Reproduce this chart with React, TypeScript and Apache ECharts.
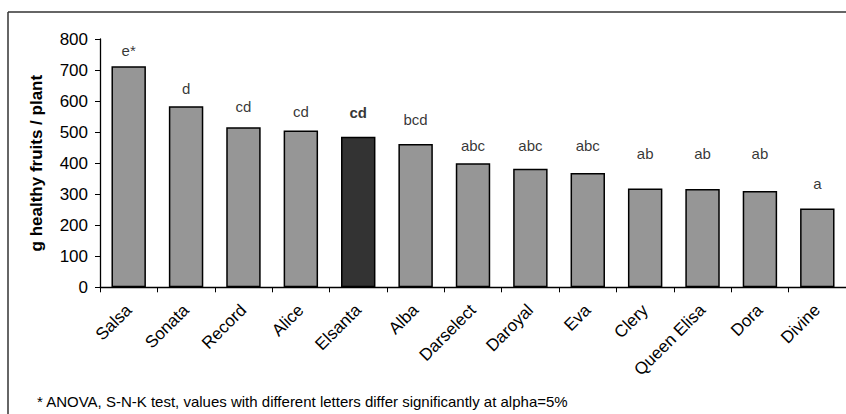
import React, { useEffect, useRef } from "react";
import * as echarts from "echarts";

const categories = ["Salsa", "Sonata", "Record", "Alice", "Elsanta", "Alba", "Darselect", "Daroyal", "Eva", "Clery", "Queen Elisa", "Dora", "Divine"];
const values = [712, 583, 516, 505, 485, 462, 400, 382, 368, 318, 317, 310, 254];
const letters = ["e*", "d", "cd", "cd", "cd", "bcd", "abc", "abc", "abc", "ab", "ab", "ab", "a"];
// hidden upper level (mean + spread) above which each letter is centred
const letterLevels = [764, 642, 581, 565, 562, 541, 458, 458, 458, 432, 432, 432, 336];
const highlighted = "Elsanta";
const yTicks = [0, 100, 200, 300, 400, 500, 600, 700, 800];
const yTitle = "g healthy fruits / plant";
const footnote = "* ANOVA, S-N-K test, values with different letters differ significantly at alpha=5%";

const FONT = "'Liberation Sans', Arial, sans-serif";

export default function App() {
  const ref = useRef<HTMLDivElement>(null);
  useEffect(() => {
    document.body.style.margin = "0";
    if (!ref.current) return;
    const chart = echarts.init(ref.current, null, { renderer: "svg" });
    chart.setOption({
      animation: false,
      textStyle: { fontFamily: FONT },
      grid: { left: 100, top: 39, width: 752, height: 248.3, containLabel: false },
      xAxis: {
        type: "category",
        data: categories,
        axisLine: { lineStyle: { color: "#000", width: 1.3 } },
        axisTick: { show: true, alignWithLabel: false, length: 5, lineStyle: { color: "#000" } },
        axisLabel: { rotate: 45, interval: 0, color: "#000", fontSize: 17, fontFamily: FONT, margin: 20 },
      },
      yAxis: {
        type: "value",
        min: yTicks[0],
        max: yTicks[yTicks.length - 1],
        interval: 100,
        name: yTitle,
        nameLocation: "middle",
        nameGap: 55,
        nameTextStyle: { fontSize: 17, fontWeight: "bold", color: "#000", fontFamily: FONT },
        axisLine: { show: true, lineStyle: { color: "#000", width: 1.3 } },
        axisTick: { show: true, length: 5, lineStyle: { color: "#000" } },
        axisLabel: { color: "#000", fontSize: 17, fontFamily: FONT, margin: 12 },
        splitLine: { show: false },
      },
      series: [
        {
          type: "bar",
          barWidth: "60%",
          data: values.map((v, i) => ({
            value: v,
            itemStyle: {
              color: categories[i] === highlighted ? "#333333" : "#969696",
              borderColor: "#000",
              borderWidth: 1.5,
            },
          })),
        },
        {
          type: "scatter",
          symbolSize: 0,
          silent: true,
          data: letterLevels.map((v, i) => ({
            value: [i, v],
            label: {
              show: true,
              position: "inside",
              formatter: letters[i],
              color: "#000",
              fontSize: 15,
              fontFamily: FONT,
              fontWeight: categories[i] === highlighted ? "bold" : "normal",
            },
          })),
        },
      ],
      graphic: [
        {
          type: "line",
          shape: { x1: 8, y1: 12, x2: 900, y2: 12 },
          style: { stroke: "#333", lineWidth: 1.5 },
          silent: true,
        },
        {
          type: "line",
          shape: { x1: 8, y1: 12, x2: 8, y2: 450 },
          style: { stroke: "#333", lineWidth: 1.5 },
          silent: true,
        },
        {
          type: "text",
          left: 37,
          top: 394,
          style: { text: footnote, fontSize: 15, fontFamily: FONT, fill: "#000" },
        },
      ],
    });
    return () => chart.dispose();
  }, []);
  return <div ref={ref} style={{ width: 846, height: 414 }} />;
}
